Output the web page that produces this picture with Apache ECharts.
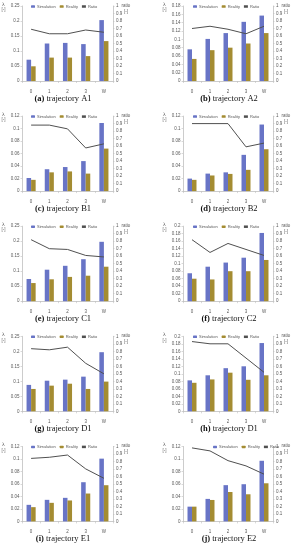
<!DOCTYPE html>
<html><head><meta charset="utf-8">
<script src="https://cdn.jsdelivr.net/npm/echarts@6/dist/echarts.min.js"></script>
<style>html,body{margin:0;padding:0;background:#fff;}#c{width:297px;height:550px;}</style>
</head><body><div id="c"></div>
<script>
const categories = ['0', '1', '2', '3', 'W'];
const panelLetters = ['a', 'b', 'c', 'd', 'e', 'f', 'g', 'h', 'i', 'j'];
const panelNames = ['trajectory A1', 'trajectory A2', 'trajectory B1', 'trajectory B2', 'trajectory C1',
  'trajectory C2', 'trajectory D1', 'trajectory D1', 'trajectory E1', 'trajectory E2'];
const legendNames = ['Simulation', 'Reality', 'Ratio'];
const leftAxisMax = [0.25, 0.18, 0.12, 0.12, 0.25, 0.2, 0.25, 0.2, 0.12, 0.12];
const leftAxisStep = [0.05, 0.02, 0.02, 0.02, 0.05, 0.02, 0.05, 0.02, 0.02, 0.02];
const ratioTicks = [0, 1, 0.1];

const simA1 = [0.071, 0.125, 0.127, 0.123, 0.203];
const realA1 = [0.049, 0.078, 0.078, 0.083, 0.133];
const ratioA1 = [0.69, 0.63, 0.63, 0.68, 0.65];
const simA2 = [0.076, 0.101, 0.115, 0.142, 0.157];
const realA2 = [0.053, 0.074, 0.080, 0.090, 0.115];
const ratioA2 = [0.70, 0.73, 0.69, 0.63, 0.73];
const simB1 = [0.021, 0.035, 0.0385, 0.048, 0.109];
const realB1 = [0.018, 0.030, 0.0315, 0.028, 0.068];
const ratioB1 = [0.88, 0.88, 0.83, 0.575, 0.63];
const simB2 = [0.020, 0.028, 0.030, 0.058, 0.1065];
const realB2 = [0.018, 0.025, 0.0275, 0.034, 0.067];
const ratioB2 = [0.90, 0.90, 0.90, 0.59, 0.64];
const simC1 = [0.074, 0.105, 0.118, 0.140, 0.198];
const realC1 = [0.0605, 0.073, 0.081, 0.085, 0.115];
const ratioC1 = [0.82, 0.70, 0.69, 0.61, 0.59];
const simC2 = [0.0745, 0.092, 0.103, 0.116, 0.182];
const realC2 = [0.060, 0.058, 0.080, 0.080, 0.110];
const ratioC2 = [0.82, 0.65, 0.77, 0.69, 0.61];
const simD1g = [0.088, 0.102, 0.1055, 0.1155, 0.197];
const realD1g = [0.0745, 0.0855, 0.092, 0.0745, 0.099];
const ratioD1g = [0.835, 0.82, 0.855, 0.64, 0.50];
const simD1h = [0.0825, 0.096, 0.115, 0.120, 0.182];
const realD1h = [0.076, 0.085, 0.103, 0.084, 0.096];
const ratioD1h = [0.93, 0.90, 0.90, 0.71, 0.52];
const simE1 = [0.0265, 0.0345, 0.0377, 0.0627, 0.1004];
const realE1 = [0.0228, 0.0297, 0.0335, 0.0446, 0.0579];
const ratioE1 = [0.84, 0.855, 0.885, 0.70, 0.575];
const simE2 = [0.0236, 0.036, 0.058, 0.0595, 0.097];
const realE2 = [0.0236, 0.0343, 0.047, 0.0434, 0.061];
const ratioE2 = [0.98, 0.94, 0.81, 0.74, 0.63];

const sims = [simA1, simA2, simB1, simB2, simC1, simC2, simD1g, simD1h, simE1, simE2];
const reals = [realA1, realA2, realB1, realB2, realC1, realC2, realD1g, realD1h, realE1, realE2];
const ratios = [ratioA1, ratioA2, ratioB1, ratioB2, ratioC1, ratioC2, ratioD1g, ratioD1h, ratioE1, ratioE2];

const SIM_COLOR = '#6874c6';
const REAL_COLOR = '#a48c32';
const LINE_COLOR = '#505050';
const AXIS_COLOR = '#bfbfbf';
const LABEL_COLOR = '#595959';

const grids = [], xAxes = [], yAxes = [], series = [], legends = [], graphics = [];
for (let i = 0; i < 10; i++) {
  const col = i % 2, row = Math.floor(i / 2);
  const gl = col === 0 ? 22 : 183;
  const gw = col === 0 ? 91 : 90;
  const gt = 6 + 110.1 * row;
  grids.push({ left: gl, top: gt, width: gw, height: 75 });
  xAxes.push({
    type: 'category', gridIndex: i, data: categories,
    axisLine: { lineStyle: { color: AXIS_COLOR, width: 0.8 } },
    axisTick: { show: true, length: 2, lineStyle: { color: AXIS_COLOR, width: 0.6 } },
    axisLabel: { fontSize: 4.5, color: LABEL_COLOR, margin: 8, fontFamily: 'Liberation Sans' }
  });
  yAxes.push({
    type: 'value', gridIndex: i, min: 0, max: leftAxisMax[i], interval: leftAxisStep[i],
    axisLine: { show: true, lineStyle: { color: AXIS_COLOR, width: 0.8 } },
    axisTick: { show: true, length: 1.5, lineStyle: { color: AXIS_COLOR, width: 0.6 } },
    splitLine: { show: false },
    axisLabel: { fontSize: 4.5, color: LABEL_COLOR, margin: 2.5, fontFamily: 'Liberation Sans' }
  });
  yAxes.push({
    type: 'value', gridIndex: i, position: 'right', min: ratioTicks[0], max: ratioTicks[1], interval: ratioTicks[2],
    axisLine: { show: true, lineStyle: { color: AXIS_COLOR, width: 0.8 } },
    axisTick: { show: true, length: 1.5, lineStyle: { color: AXIS_COLOR, width: 0.6 } },
    splitLine: { show: false },
    axisLabel: { fontSize: 4.5, color: LABEL_COLOR, margin: 3, fontFamily: 'Liberation Sans' }
  });
  series.push({
    name: legendNames[0], type: 'bar', xAxisIndex: i, yAxisIndex: 2 * i, data: sims[i],
    itemStyle: { color: SIM_COLOR }, barGap: '0%', barCategoryGap: '50%'
  });
  series.push({
    name: legendNames[1], type: 'bar', xAxisIndex: i, yAxisIndex: 2 * i, data: reals[i],
    itemStyle: { color: REAL_COLOR }, barGap: '0%', barCategoryGap: '50%'
  });
  series.push({
    name: legendNames[2], type: 'line', xAxisIndex: i, yAxisIndex: 2 * i + 1, data: ratios[i],
    symbol: 'none', lineStyle: { color: LINE_COLOR, width: 1 }, itemStyle: { color: LINE_COLOR }, z: 5
  });
  legends.push({
    data: [legendNames[0], legendNames[1], { name: legendNames[2], icon: 'rect', itemStyle: { color: LINE_COLOR } }],
    left: col === 0 ? 31 : (i === 9 ? 213 : 193), top: gt - 1.5,
    itemWidth: 4, itemHeight: 2.5, itemGap: 4, padding: 0,
    textStyle: { fontSize: 4, color: LABEL_COLOR, padding: [0, 0, 0, -3], fontFamily: 'Liberation Sans' },
    selectedMode: false
  });
  const lx = col === 0 ? 4 : 165;
  graphics.push({ type: 'text', left: lx - 2, top: gt - 4, style: { text: 'λ', fontSize: 4.5, fill: LABEL_COLOR, fontFamily: 'DejaVu Sans' } });
  graphics.push({ type: 'text', left: lx - 2.5, top: gt + 1.5, style: { text: '[-]', fontSize: 4.5, fill: LABEL_COLOR, fontFamily: 'Liberation Sans' } });
  const rx = gl + gw + 13;
  graphics.push({ type: 'text', x: rx, y: gt - 3, style: { text: 'ratio', fontSize: 4.5, fill: LABEL_COLOR, align: 'center', fontFamily: 'Liberation Sans' } });
  graphics.push({ type: 'text', x: rx, y: gt + 3, style: { text: '[-]', fontSize: 4.5, fill: LABEL_COLOR, align: 'center', fontFamily: 'Liberation Sans' } });
  const cx = col === 0 ? 63 : 229;
  graphics.push({
    type: 'text', x: cx, y: 98.5 + 110.1 * row,
    style: {
      text: '{b|(' + panelLetters[i] + ')} ' + panelNames[i],
      rich: { b: { fontWeight: 'bold', fontSize: 8.5, fontFamily: 'Liberation Serif', fill: '#111' } },
      fontSize: 8.5, fontFamily: 'Liberation Serif', fill: '#111', align: 'center', verticalAlign: 'middle'
    }
  });
}

const chart = echarts.init(document.getElementById('c'), null, { renderer: 'canvas' });
chart.setOption({
  animation: false,
  backgroundColor: '#fff',
  grid: grids, xAxis: xAxes, yAxis: yAxes, series: series, legend: legends,
  graphic: graphics
});
</script></body></html>
